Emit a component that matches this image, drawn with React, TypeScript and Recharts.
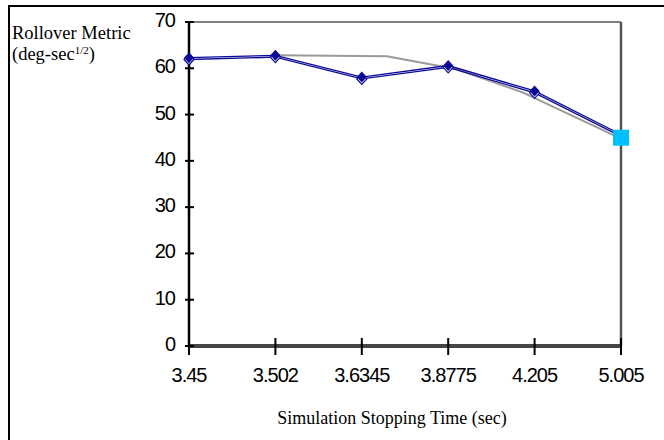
import React from 'react';
import { LineChart, Line, XAxis, YAxis, ReferenceLine } from 'recharts';

// x categories (stopping time) and the y scale
const categories = ['3.45', '3.502', '3.6345', '3.8775', '4.205', '5.005'];
const yTicks = [0, 10, 20, 30, 40, 50, 60, 70];

// blue double line (filled diamonds on top, hollow ones just below)
const metricUpper = [62.3, 62.8, 58.1, 60.6, 55.1, 45.7];
const metricLower = [61.9, 62.4, 57.7, 60.2, 54.7, 45.3];

// grey reference curve, positions given on the category index scale
const refIdx = [1, 2.29, 3.1, 3.86, 5];
const refVal = [62.8, 62.6, 59.8, 54.8, 44.8];

// final value marked with the cyan square
const finalIdx = [5];
const finalVal = [45.0];

const BLUE = '#0a0a96';

const blueRows = categories.map((c, i) => ({ idx: i, up: metricUpper[i], low: metricLower[i] }));
const refRows = refIdx.map((x, i) => ({ idx: x, v: refVal[i] }));
const finalRows = finalIdx.map((x, i) => ({ idx: x, v: finalVal[i] }));

const diamond = (cx: number, cy: number) =>
  `M${cx},${cy - 5.5}L${cx + 5},${cy}L${cx},${cy + 5.5}L${cx - 5},${cy}Z`;

const FilledDiamond = (props: any) => {
  const { cx, cy, index } = props;
  if (index >= 5) return <g key={`fd${index}`} />;
  return <path key={`fd${index}`} d={diamond(cx, cy)} fill={BLUE} />;
};

const HollowDiamond = (props: any) => {
  const { cx, cy, index } = props;
  if (index >= 5) return <g key={`hd${index}`} />;
  return <path key={`hd${index}`} d={diamond(cx, cy)} fill="#fff" stroke={BLUE} strokeWidth={1.2} />;
};

const Square = (props: any) => {
  const { cx, cy, index } = props;
  return <rect key={`sq${index}`} x={cx - 8} y={cy - 8} width={16} height={16} fill="#00bfff" />;
};

const sans = "'Liberation Sans', Arial, sans-serif";

const XTick = (props: any) => {
  const { x, y, payload } = props;
  return (
    <g>
      <line x1={x} x2={x} y1={y - 8} y2={y + 9} stroke="#000" strokeWidth={2} />
      <text x={x} y={y + 36} textAnchor="middle" fontFamily={sans} fontSize={20} letterSpacing={-1} fill="#000">
        {categories[payload.value]}
      </text>
    </g>
  );
};

const YTick = (props: any) => {
  const { x, y, payload } = props;
  return (
    <g>
      <line x1={x - 4} x2={x + 5} y1={y} y2={y} stroke="#000" strokeWidth={2} />
      <text x={x - 14} y={y + 5} textAnchor="end" fontFamily={sans} fontSize={20} letterSpacing={-1} fill="#000">
        {payload.value}
      </text>
    </g>
  );
};

const serif = "'Liberation Serif', 'Times New Roman', serif";

export default function App() {
  return (
    <div style={{ position: 'absolute', left: 0, top: 0, width: 664, height: 440, background: '#fff' }}>
      <div
        style={{
          position: 'absolute',
          left: 8,
          top: 5,
          width: 656,
          height: 435,
          borderTop: '2px solid #000',
          borderLeft: '2.5px solid #000',
          boxSizing: 'border-box',
        }}
      />
      <div style={{ position: 'absolute', left: 12, top: 23, fontFamily: serif, fontSize: 18.5, lineHeight: '21px', color: '#000' }}>
        Rollover Metric
        <br />
        (deg-sec<sup style={{ fontSize: 11, lineHeight: 0, verticalAlign: '6px' }}>1/2</sup>)
      </div>
      <div
        style={{
          position: 'absolute',
          left: 392,
          top: 408,
          transform: 'translateX(-50%)',
          whiteSpace: 'nowrap',
          fontFamily: serif,
          fontSize: 18,
          color: '#000',
        }}
      >
        Simulation Stopping Time (sec)
      </div>
      <div style={{ position: 'absolute', left: 0, top: 0 }}>
        <LineChart width={664} height={440} margin={{ top: 22, right: 43, left: 0, bottom: 0 }}>
          <XAxis
            type="number"
            dataKey="idx"
            domain={[0, 5]}
            ticks={[0, 1, 2, 3, 4, 5]}
            interval={0}
            height={94}
            tickSize={0}
            tickMargin={0}
            tickLine={false}
            axisLine={{ stroke: '#444', strokeWidth: 4 }}
            tick={<XTick />}
          />
          <YAxis
            type="number"
            domain={[0, 70]}
            ticks={yTicks}
            interval={0}
            width={189}
            tickSize={0}
            tickMargin={0}
            tickLine={false}
            axisLine={{ stroke: '#000', strokeWidth: 2.5 }}
            tick={<YTick />}
          />
          <ReferenceLine y={70} stroke="#555" strokeWidth={1.5} />
          <ReferenceLine x={5} stroke="#555" strokeWidth={2.5} />
          <Line data={refRows} dataKey="v" stroke="#9a9a9a" strokeWidth={2} dot={false} isAnimationActive={false} />
          <Line
            data={blueRows}
            dataKey="low"
            stroke={BLUE}
            strokeWidth={1.3}
            dot={<HollowDiamond />}
            isAnimationActive={false}
          />
          <Line
            data={blueRows}
            dataKey="up"
            stroke={BLUE}
            strokeWidth={1.3}
            dot={<FilledDiamond />}
            isAnimationActive={false}
          />
          <Line data={finalRows} dataKey="v" stroke="none" dot={<Square />} isAnimationActive={false} />
        </LineChart>
      </div>
    </div>
  );
}
